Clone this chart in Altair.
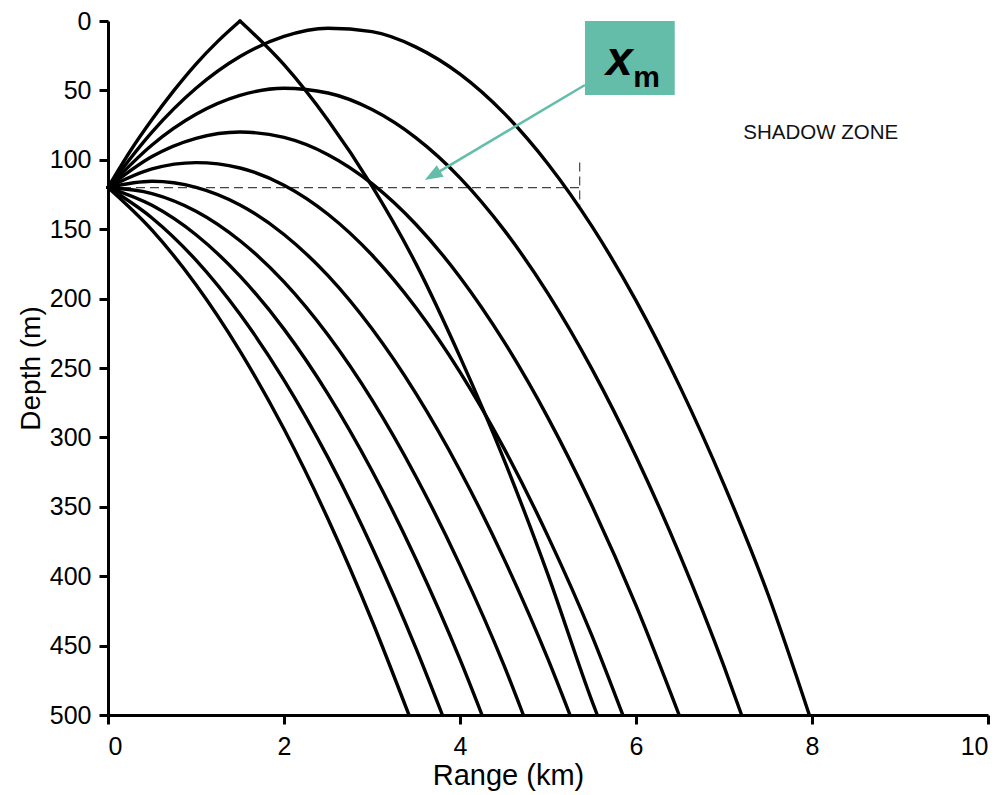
import altair as alt
import pandas as pd

# ---- ray paths: range (km) and depth (m) ----
# ray A: up-going branch to the surface and the reflected branch
ray_A1_x = [0, 0.25, 0.5, 0.75, 1.0, 1.25, 1.5]
ray_A1_d = [120, 94, 71, 50, 31, 14.5, 0]
ray_A2_x = [1.5, 2.0, 2.5, 3.0, 3.5, 4.0, 4.5, 5.0, 5.5, 5.56]
ray_A2_d = [0, 31.5, 71.5, 119, 175, 242, 316, 399, 490, 500]

ray_B_x = [0, 0.5, 1, 1.5, 2, 2.5, 3, 3.5, 4, 4.5, 5, 5.5, 6, 6.5, 7, 7.5, 7.97]
ray_B_d = [120, 80, 48.5, 25.6, 11.1, 5.2, 7.7, 18.8, 38.3, 66.4, 103, 148, 201.5, 263.6, 334, 413, 500]

ray_C_x = [0, 0.5, 1, 1.5, 2, 2.5, 3, 3.5, 4, 4.5, 5, 5.5, 6, 6.5, 7, 7.2]
ray_C_d = [120, 89.3, 67.2, 53.6, 48.5, 51.9, 63.8, 84.2, 113, 150.5, 196.4, 250.8, 313.7, 385, 465, 500]

ray_D_x = [0, 0.5, 1, 1.5, 2, 2.5, 3, 3.5, 4, 4.5, 5, 5.5, 6, 6.49]
ray_D_d = [120, 97.7, 84.6, 80, 83.9, 96.3, 117.2, 146.6, 184.6, 231, 285.9, 349.3, 421, 500]

ray_E_x = [0, 0.5, 1, 1.5, 2, 2.5, 3, 3.5, 4, 4.5, 5, 5.5, 5.85]
ray_E_d = [120, 106.6, 102, 105.9, 118.3, 139.2, 168.6, 206.6, 253, 307.9, 371.3, 443, 500]

ray_F_x = [0, 0.5, 1, 1.5, 2, 2.5, 3, 3.5, 4, 4.5, 5, 5.25]
ray_F_d = [120, 115.5, 119.8, 132.5, 153.8, 183.5, 221.8, 268.5, 323.8, 387.5, 459.8, 500]

ray_G_x = [0, 0.5, 1, 1.5, 2, 2.5, 3, 3.5, 4, 4.5, 4.72]
ray_G_d = [120, 124.3, 137, 158.3, 188, 226.3, 273, 328.3, 392, 464.3, 500]

ray_H_x = [0, 0.5, 1, 1.5, 2, 2.5, 3, 3.5, 4, 4.25]
ray_H_d = [120, 132.8, 154, 183.8, 222, 268.8, 324, 387.8, 460, 500]

ray_I_x = [0, 0.5, 1, 1.5, 2, 2.5, 3, 3.5, 3.8]
ray_I_d = [120, 141.9, 172.3, 211.3, 258.7, 314.6, 379.1, 452, 500]

ray_J_x = [0, 0.5, 1, 1.5, 2, 2.5, 3, 3.42]
ray_J_d = [120, 150.7, 190, 237.8, 294, 358.8, 432.1, 500]

x_ticks = [0, 2, 4, 6, 8, 10]
y_ticks = [0, 50, 100, 150, 200, 250, 300, 350, 400, 450, 500]

# annotation anchors (data units)
dash_x = [0, 5.36]
dash_x2 = [5.36, 5.36]
dash_y = [120, 102]
dash_y2 = [120, 136]
box_x, box_x2, box_y, box_y2 = 5.42, 6.44, 0, 53.3
arrow_from = (5.42, 46.1)
arrow_to = (3.60, 114.6)
label_shadow = "SHADOW ZONE"

TEAL = "#64bda9"
FONT = "Liberation Sans"

rays = {
    "A1": (ray_A1_x, ray_A1_d), "A2": (ray_A2_x, ray_A2_d),
    "B": (ray_B_x, ray_B_d), "C": (ray_C_x, ray_C_d),
    "D": (ray_D_x, ray_D_d), "E": (ray_E_x, ray_E_d), "F": (ray_F_x, ray_F_d),
    "G": (ray_G_x, ray_G_d), "H": (ray_H_x, ray_H_d), "I": (ray_I_x, ray_I_d),
    "J": (ray_J_x, ray_J_d),
}
rows = []
for name, (xs, ds) in rays.items():
    for i, (xv, dv) in enumerate(zip(xs, ds)):
        rows.append({"ray": name, "i": i, "x": xv, "depth": dv})
df = pd.DataFrame(rows)

xscale = alt.Scale(domain=[0, 10], nice=False, zero=False)
yscale = alt.Scale(domain=[0, 500], reverse=True, nice=False, zero=False)

lines = alt.Chart(df).mark_line(color="black", strokeWidth=3.4, strokeJoin="round",
                                strokeCap="round", interpolate="monotone").encode(
    x=alt.X("x:Q", scale=xscale,
            axis=alt.Axis(values=x_ticks, title="Range (km)", grid=False, labelPadding=10,
                          titlePadding=2, format="d", titleX=400, titleAlign="center",
                          titleFontSize=29)),
    y=alt.Y("depth:Q", scale=yscale,
            axis=alt.Axis(values=y_ticks, title="Depth (m)", grid=False, labelPadding=8,
                          titlePadding=4, format="d", titleFontSize=28)),
    detail="ray:N",
    order="i:Q",
)

dash_df = pd.DataFrame({"x": dash_x, "x2": dash_x2, "y": dash_y, "y2": dash_y2})
dashes = alt.Chart(dash_df).mark_rule(color="#444444", strokeWidth=1.2, strokeDash=[9, 5]).encode(
    x=alt.X("x:Q", scale=xscale), x2="x2:Q",
    y=alt.Y("y:Q", scale=yscale), y2="y2:Q",
)

box_df = pd.DataFrame({"x": [box_x], "x2": [box_x2], "y": [box_y], "y2": [box_y2]})
box = alt.Chart(box_df).mark_rect(color=TEAL).encode(
    x=alt.X("x:Q", scale=xscale), x2="x2:Q",
    y=alt.Y("y:Q", scale=yscale), y2="y2:Q",
)

arrow_df = pd.DataFrame({"x": [arrow_from[0]], "y": [arrow_from[1]],
                         "x2": [arrow_to[0] + 0.12], "y2": [arrow_to[1] - 4.5]})
arrow_line = alt.Chart(arrow_df).mark_rule(color=TEAL, strokeWidth=2.5).encode(
    x=alt.X("x:Q", scale=xscale), x2="x2:Q",
    y=alt.Y("y:Q", scale=yscale), y2="y2:Q",
)
head_df = pd.DataFrame({"x": [arrow_to[0]], "y": [arrow_to[1]]})
arrow_head = alt.Chart(head_df).mark_point(
    shape="M0,0 L0.6,1.6 L-0.6,1.6 Z", filled=True, color=TEAL, opacity=1,
    size=500, angle=239.3, strokeWidth=0,
).encode(x=alt.X("x:Q", scale=xscale), y=alt.Y("y:Q", scale=yscale))

xm_df = pd.DataFrame({"x": [5.81], "y": [38.9], "t": ["x"]})
xm_x = alt.Chart(xm_df).mark_text(fontSize=48, fontWeight="bold", fontStyle="italic",
                                  font=FONT, color="black", baseline="alphabetic",
                                  align="center").encode(
    x=alt.X("x:Q", scale=xscale), y=alt.Y("y:Q", scale=yscale), text="t:N")
m_df = pd.DataFrame({"x": [6.12], "y": [47.3], "t": ["m"]})
xm_m = alt.Chart(m_df).mark_text(fontSize=30, fontWeight="bold", font=FONT, color="black",
                                 baseline="alphabetic", align="center").encode(
    x=alt.X("x:Q", scale=xscale), y=alt.Y("y:Q", scale=yscale), text="t:N")

sz_df = pd.DataFrame({"x": [8.10], "y": [85.0], "t": [label_shadow]})
shadow = alt.Chart(sz_df).mark_text(fontSize=20.5, font=FONT, color="#111111",
                                    baseline="alphabetic", align="center").encode(
    x=alt.X("x:Q", scale=xscale), y=alt.Y("y:Q", scale=yscale), text="t:N")

chart = alt.layer(dashes, lines, box, arrow_line, arrow_head, xm_x, xm_m, shadow).properties(
    width=880, height=694,
    autosize=alt.AutoSizeParams(type="none"),
    padding={"left": 108, "top": 21, "right": 17, "bottom": 80},
).configure_view(stroke="transparent").configure_axis(
    labelFont=FONT, titleFont=FONT, labelFontSize=25, titleFontSize=25,
    titleFontWeight="normal", labelColor="black", titleColor="black",
    domainColor="black", tickColor="black", domainWidth=3, tickWidth=3, tickSize=9,
)

chart.save("out.html", embed_options={"renderer": "svg", "actions": False})
